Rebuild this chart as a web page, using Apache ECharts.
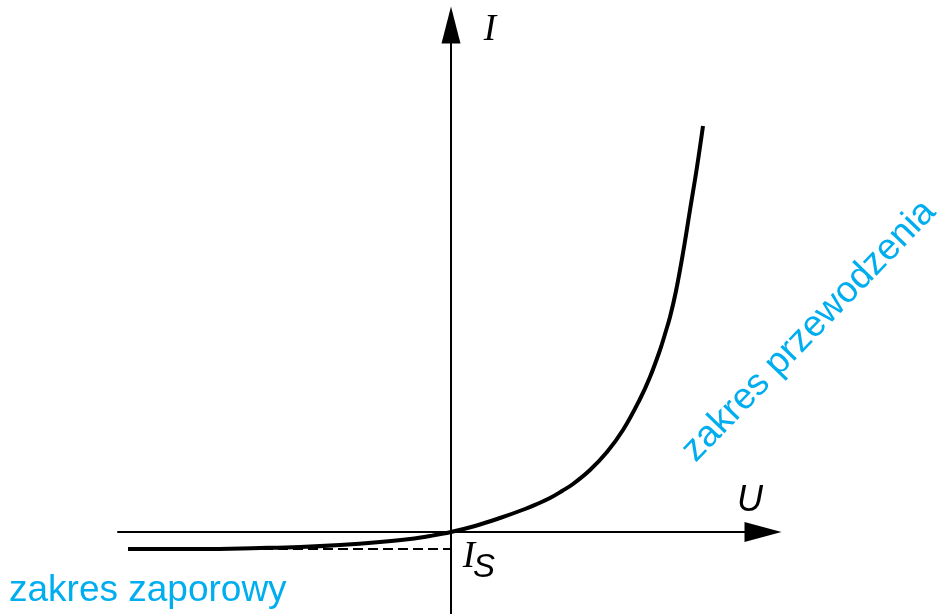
<!DOCTYPE html>
<html>
<head>
<meta charset="utf-8">
<script src="https://cdn.jsdelivr.net/npm/echarts@6/dist/echarts.min.js"></script>
<style>
    html, body { margin: 0; padding: 0; background: #fff; }
    #chart { width: 938px; height: 614px; }
</style>
</head>
<body>
<div id="chart"></div>
<script>
// diode characteristic, units (U to the right, I up)
var uValues = [-323, -251, -191, -151, -111, -71, -41, -21, 0, 24, 49, 74, 86, 99, 111, 122, 139, 156, 172, 189, 199, 209, 214, 219, 225, 232, 239, 246, 252];
var iValues = [-17, -17, -16, -15, -13, -10, -7, -4, 0, 6, 14, 23, 28, 34, 41, 48, 62, 80, 102, 133, 155, 182, 198, 215, 241, 279, 322, 365, 406];
// saturation current level (dashed)
var isU = [-323, 0];
var isLevel = -17;

var uRange = [-333, 312];
var iRange = [-82, 507];

var cyan = '#00AEEF';

var curveData = [];
for (var k = 0; k < uValues.length; k++) {
    curveData.push([uValues[k], iValues[k]]);
}
var dashData = [[isU[0], isLevel], [isU[1], isLevel]];

var myChart = echarts.init(document.getElementById('chart'));
var option = {
    animation: false,
    grid: {
        left: 118,
        right: 175,
        top: 25,
        bottom: 0
    },
    xAxis: {
        type: 'value',
        min: uRange[0],
        max: uRange[1],
        axisLine: {
            onZero: true,
            symbol: ['none', 'triangle'],
            symbolSize: [20, 37],
            lineStyle: {color: '#000', width: 2}
        },
        axisTick: {show: false},
        axisLabel: {show: false},
        splitLine: {show: false}
    },
    yAxis: {
        type: 'value',
        min: iRange[0],
        max: iRange[1],
        axisLine: {
            onZero: true,
            symbol: ['none', 'triangle'],
            symbolSize: [19, 37],
            lineStyle: {color: '#000', width: 2}
        },
        axisTick: {show: false},
        axisLabel: {show: false},
        splitLine: {show: false}
    },
    series: [
        {
            type: 'line',
            data: dashData,
            symbol: 'none',
            lineStyle: {color: '#000', width: 2, type: [10, 5]},
            z: 2
        },
        {
            type: 'line',
            data: curveData,
            symbol: 'none',
            smooth: 0.4,
            lineStyle: {color: '#000', width: 4},
            z: 3
        }
    ],
    graphic: [
        {
            type: 'text', x: 490, y: 30,
            style: {text: 'I', font: 'italic 37px "Liberation Serif"', fill: '#000', align: 'center', verticalAlign: 'middle'}
        },
        {
            type: 'text', x: 750, y: 501,
            style: {text: 'U', font: 'italic 36px "Liberation Sans"', fill: '#000', align: 'center', verticalAlign: 'middle'}
        },
        {
            type: 'text', x: 469, y: 557,
            style: {text: 'I', font: 'italic 37px "Liberation Serif"', fill: '#000', align: 'center', verticalAlign: 'middle'}
        },
        {
            type: 'text', x: 484, y: 568,
            style: {text: 'S', font: 'italic 33px "Liberation Sans"', fill: '#000', align: 'center', verticalAlign: 'middle'}
        },
        {
            type: 'text', x: 9, y: 591,
            style: {text: 'zakres zaporowy', font: '37px "Liberation Sans"', fill: cyan, align: 'left', verticalAlign: 'middle'}
        },
        {
            type: 'text', x: 809, y: 331, rotation: 46 * Math.PI / 180,
            style: {text: 'zakres przewodzenia', font: '37px "Liberation Sans"', fill: cyan, align: 'center', verticalAlign: 'middle'}
        }
    ]
};
myChart.setOption(option);
</script>
</body>
</html>
